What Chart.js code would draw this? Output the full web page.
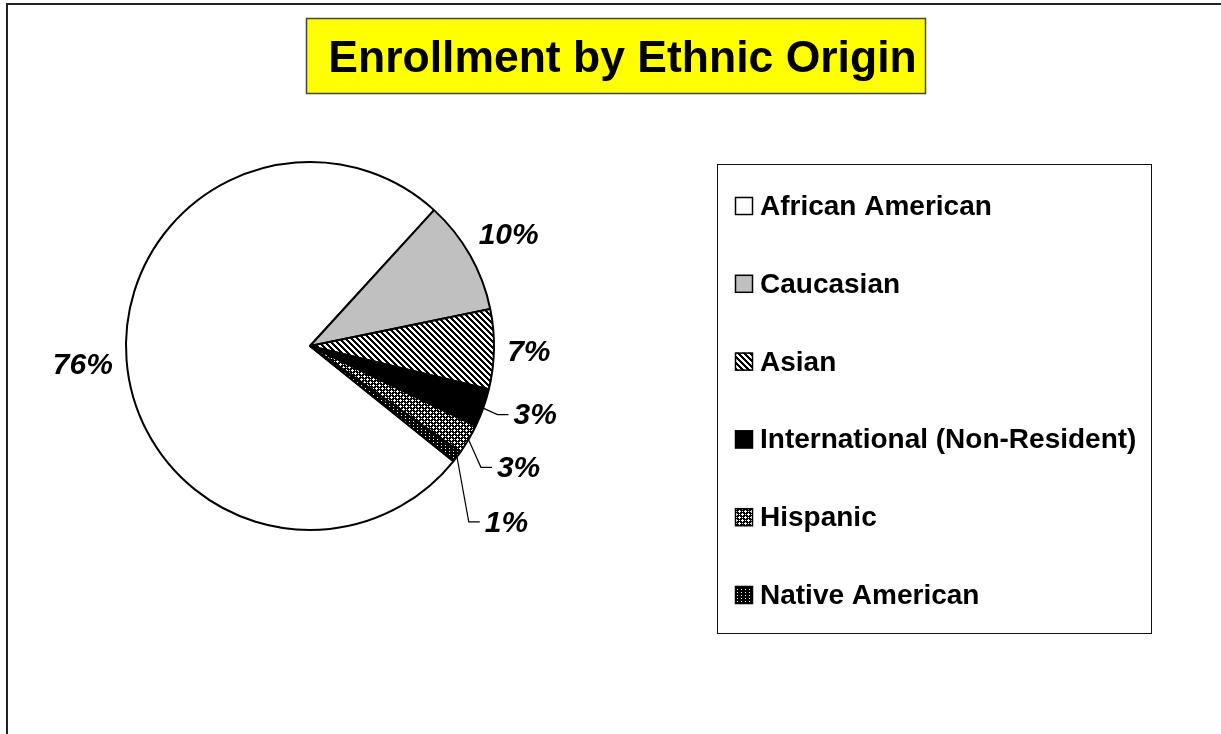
<!DOCTYPE html>
<html><head><meta charset="utf-8">
<script src="https://cdn.jsdelivr.net/npm/chart.js@4/dist/chart.umd.min.js"></script>
<style>html,body{margin:0;padding:0;background:#fff;overflow:hidden}canvas{display:block}</style>
</head><body>
<canvas id="c" width="1221" height="734"></canvas>
<script>
// ---- data ----
const categories = ["African American", "Caucasian", "Asian", "International (Non-Resident)", "Hispanic", "Native American"];
const enrollmentShare = [76, 10, 7, 3.4, 2.6, 1];
const percentLabels = ["76%", "10%", "7%", "3%", "3%", "1%"];
const titleText = "Enrollment by Ethnic Origin";

// ---- styling / placement ----
const labelNudge = [[0,0],[0,0],[0,0],[17,-7],[18,8],[20,42]];
const leaderLine = [false,false,false,true,true,true];

const canvas = document.getElementById('c');
const mainCtx = canvas.getContext('2d');

function makePattern(w, h, isWhite) {
  const c = document.createElement('canvas');
  c.width = w; c.height = h;
  const x = c.getContext('2d');
  const img = x.createImageData(w, h);
  for (let j = 0; j < h; j++) for (let i = 0; i < w; i++) {
    const v = isWhite(i, j) ? 255 : 0;
    const k = (j * w + i) * 4;
    img.data[k] = img.data[k+1] = img.data[k+2] = v; img.data[k+3] = 255;
  }
  x.putImageData(img, 0, 0);
  return mainCtx.createPattern(c, 'repeat');
}
const hatch = makePattern(6, 6, (i, j) => (((i - j) % 6) + 6) % 6 >= 3);
const blobAt = (i, j, cx, cy) => (Math.abs(i - cx) <= 1 && Math.abs(j - cy) <= 1) && !(Math.abs(i - cx) === 1 && Math.abs(j - cy) === 1);
const checker = makePattern(6, 6, (i, j) => blobAt(i, j, 1, 1) || blobAt(i, j, 4, 4) || (i === 4 && j === 1) || (i === 1 && j === 4));
const dotted = makePattern(4, 3, (i, j) => i === 1 && j === 1);
const fills = ['#ffffff', '#c0c0c0', hatch, '#000000', checker, dotted];

const framePlugin = {
  id: 'frame',
  beforeDraw(chart) {
    const ctx = chart.ctx;
    ctx.save();
    ctx.fillStyle = '#fff';
    ctx.fillRect(0, 0, chart.width, chart.height);
    ctx.strokeStyle = '#222';
    ctx.lineWidth = 2;
    ctx.strokeRect(7, 4, 1400, 1000);
    // title box
    ctx.fillStyle = '#ffff00';
    ctx.fillRect(306, 18, 619, 75);
    ctx.strokeStyle = '#444';
    ctx.lineWidth = 1.5;
    ctx.strokeRect(306.5, 18.5, 619, 75);
    ctx.fillStyle = '#000';
    ctx.font = 'bold 44.5px "Liberation Sans", Arial, sans-serif';
    ctx.textAlign = 'center';
    ctx.textBaseline = 'alphabetic';
    ctx.fillText(titleText, 622.5, 72);
    ctx.restore();
  },
  afterDraw(chart) {
    const ctx = chart.ctx;
    const meta = chart.getDatasetMeta(0);
    ctx.save();
    // percentage labels
    ctx.font = 'bold italic 30px "Liberation Sans", Arial, sans-serif';
    ctx.textAlign = 'center';
    ctx.textBaseline = 'alphabetic';
    ctx.fillStyle = '#000';
    meta.data.forEach((arc, i) => {
      const p = arc.getProps(['x','y','startAngle','endAngle','outerRadius'], true);
      const mid = (p.startAngle + p.endAngle) / 2;
      const dx = Math.cos(mid), dy = Math.sin(mid);
      const txt = percentLabels[i];
      const w = ctx.measureText(txt).width;
      const ext = w / 2 * Math.abs(dx) + 11 * Math.abs(dy);
      const d = p.outerRadius + 13 + ext;
      const cx = p.x + dx * d + labelNudge[i][0];
      const cy = p.y + dy * d + labelNudge[i][1];
      ctx.fillText(txt, cx, cy + 10.7);
      if (leaderLine[i]) {
        const left = cx - w / 2;
        ctx.beginPath();
        ctx.strokeStyle = '#000';
        ctx.lineWidth = 1.2;
        ctx.moveTo(p.x + dx * p.outerRadius, p.y + dy * p.outerRadius);
        ctx.lineTo(left - 16, cy + 1);
        ctx.lineTo(left - 5, cy + 1);
        ctx.stroke();
      }
    });
    // legend
    ctx.strokeStyle = '#111';
    ctx.lineWidth = 1;
    ctx.strokeRect(717.5, 164.5, 434, 469);
    ctx.font = 'bold 28px "Liberation Sans", Arial, sans-serif';
    ctx.textAlign = 'left';
    categories.forEach((name, i) => {
      const base = 215 + i * 77.8;
      ctx.fillStyle = fills[i];
      ctx.fillRect(735, base - 18, 18, 18);
      ctx.strokeStyle = '#000';
      ctx.lineWidth = 1.5;
      ctx.strokeRect(735.5, base - 17.5, 17, 17);
      ctx.fillStyle = '#000';
      ctx.fillText(name, 760, base);
    });
    ctx.restore();
  }
};

new Chart(canvas, {
  type: 'pie',
  data: {
    labels: categories,
    datasets: [{
      data: enrollmentShare,
      backgroundColor: fills,
      borderColor: '#000',
      borderWidth: 2
    }]
  },
  options: {
    responsive: false,
    animation: false,
    rotation: 128.8,
    layout: { padding: { left: 125, right: 726, top: 161, bottom: 203 } },
    plugins: { legend: { display: false }, tooltip: { enabled: false }, title: { display: false } },
    events: []
  },
  plugins: [framePlugin]
});
</script>
</body></html>
